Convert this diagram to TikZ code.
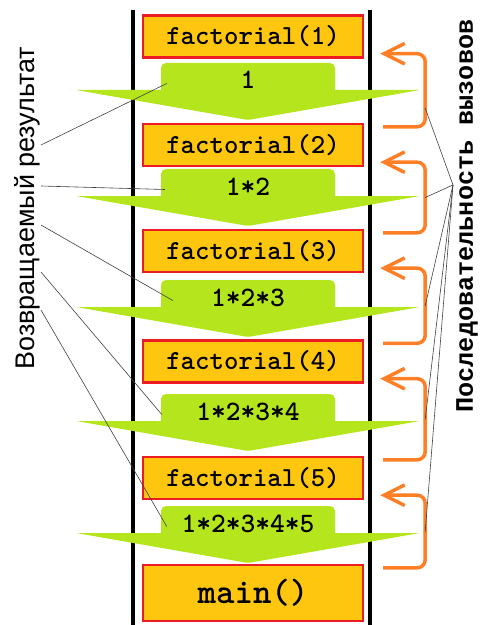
\documentclass[tikz,border=0pt]{standalone}
\usepackage{fontspec}
\setmainfont{Liberation Sans}
\newfontfamily\seqfont{Liberation Mono}
\usetikzlibrary{arrows.meta,positioning,calc}

\newdimen\px \px=0.03cm

\definecolor{boxfill}{RGB}{255,198,16}
\definecolor{boxedge}{RGB}{237,28,36}
\definecolor{retgreen}{RGB}{181,230,29}
\definecolor{callorange}{RGB}{255,127,39}

\tikzstyle{frame} = [rectangle, draw=boxedge, line width=2.4\px, fill=boxfill,
  minimum width=220\px, minimum height=42\px, inner sep=0pt,
  font=\ttfamily\bfseries\fontsize{23.5}{24}\selectfont]
\tikzstyle{stem} = [rectangle, fill=retgreen, rounded corners=5\px,
  minimum width=174\px, text height=26\px, text depth=7\px, inner sep=0pt,
  font=\ttfamily\bfseries\fontsize{24}{24}\selectfont]
\tikzstyle{head} = [fill=retgreen, rounded corners=2\px]
\tikzstyle{rail} = [draw, line width=4\px]
\tikzstyle{call} = [draw=callorange, line width=3.5\px, rounded corners=8\px,
  -{Straight Barb[length=0.62cm, width=0.62cm]}]
\tikzstyle{pointer} = [draw=black!75, line width=0.6\px]
\tikzstyle{vlabel} = [rotate=90, inner sep=0pt]

\begin{document}
\begin{tikzpicture}[x=0.03cm, y=-0.03cm]
\useasboundingbox (0,0) rectangle (480,625);

% ==========================================
% STACK RAILS
% ==========================================
\draw[rail] (133,10) -- (133,625);
\draw[rail] (370,10) -- (370,625);

% ==========================================
% CALL FRAMES
% ==========================================
\foreach \n/\y in {1/36.5, 2/145, 3/251, 4/361.5, 5/478}
  { \node[frame] (f\n) at (253,\y) {factorial(\n)}; }
\node[frame, minimum height=56\px, font=\ttfamily\bfseries\fontsize{30}{30}\selectfont]
  (main) at (253,593) {main()};

% ==========================================
% RETURNED VALUES (green arrows)
% ==========================================
\foreach \n/\b/\txt in {1/90/1, 2/196/1*2, 3/307/1*2*3, 4/421/1*2*3*4, 5/533/1*2*3*4*5}
{
  \fill[head] (76,\b) -- (420,\b) -- (248,\b+30) -- cycle;
  \node[stem, anchor=base] (s\n) at (248,\b-1) {\txt};
}

% ==========================================
% CALL SEQUENCE (orange arrows)
% ==========================================
\foreach \n/\m/\p in {1/f2/0.128, 2/f3/0.25, 3/f4/0.25, 4/f5/0.25, 5/main/0.25}
  { \draw[call] ($(\m.north east)+(19,4)$) -- ++(42,0)
      |- coordinate[pos=\p] (c\n) ($(f\n.south east)+(16,-5)$); }

% Side labels
\node[vlabel, font=\fontsize{23}{24}\selectfont] (ret) at (27,208) {Возвращаемый результат};
\node[vlabel, font=\seqfont\bfseries\fontsize{21.5}{22}\selectfont] (seq) at (467,216)
  {Последовательность вызовов};

% Pointer lines
\foreach \n/\dy/\dx in {1/-63/6, 2/-22/4, 3/17/12, 4/64/1, 5/102/6}
  { \draw[pointer] ($(ret.center)+(14,\dy)$) -- ($(s\n.west)+(\dx,4)$); }
\foreach \n in {1,...,5}
  { \draw[pointer] ($(seq.center)+(-14,-31)$) -- (c\n); }

\end{tikzpicture}
\end{document}
